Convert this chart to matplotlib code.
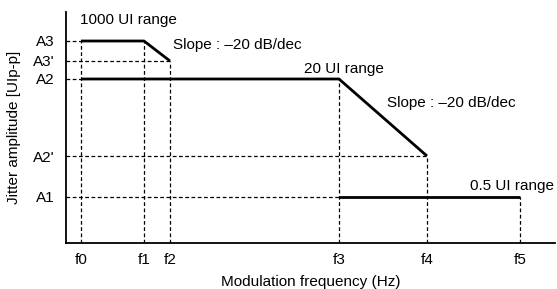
import matplotlib
matplotlib.use("Agg")
import matplotlib.pyplot as plt

plt.rcParams['font.family'] = ['Liberation Sans', 'DejaVu Sans']

# frequency break points (relative position on the axis)
f_labels = ['f0', 'f1', 'f2', 'f3', 'f4', 'f5']
f_pos = [15, 78, 104, 273, 361, 454]

# amplitude levels
a_labels = ['A1', "A2'", 'A2', "A3'", 'A3']
a_pos = [46, 87, 164, 182, 202]
lvl = dict(zip(a_labels, a_pos))
fq = dict(zip(f_labels, f_pos))

# mask segments (frequency, amplitude)
mask_1000 = [('f0', 'A3'), ('f1', 'A3'), ('f2', "A3'")]
mask_20 = [('f0', 'A2'), ('f3', 'A2'), ('f4', "A2'")]
mask_05 = [('f3', 'A1'), ('f5', 'A1')]

# guide lines: horizontal (level, up to freq), vertical (freq, from level)
h_guides = [('A3', 'f0'), ("A3'", 'f2'), ('A2', 'f0'), ("A2'", 'f4'), ('A1', 'f3')]
v_guides = [('f0', 'A3'), ('f1', 'A3'), ('f2', "A3'"), ('f3', 'A2'), ('f4', "A2'"), ('f5', 'A1')]

fig = plt.figure(figsize=(5.57, 2.89), dpi=100)
ax = fig.add_axes([66/557, 46/289, 489/557, 231/289])

dash = dict(color='black', lw=0.9, ls=(0, (3, 2)))
for a, f in h_guides:
    ax.plot([0, fq[f]], [lvl[a], lvl[a]], **dash)
for f, a in v_guides:
    ax.plot([fq[f], fq[f]], [0, lvl[a]], **dash)

for seg in (mask_1000, mask_20, mask_05):
    ax.plot([fq[f] for f, a in seg], [lvl[a] for f, a in seg], color='black', lw=2.0,
            solid_capstyle='butt')

fs = 11
ax.text(14, 223, '1000 UI range', fontsize=fs, va='center')
ax.text(107, 198, 'Slope : \u201320 dB/dec', fontsize=fs, va='center')
ax.text(238, 174, '20 UI range', fontsize=fs, va='center')
ax.text(321, 140, 'Slope : \u201320 dB/dec', fontsize=fs, va='center')
ax.text(404, 57, '0.5 UI range', fontsize=fs, va='center')

ax.set_xlim(0, 489)
ax.set_ylim(0, 231)
ax.set_xticks(f_pos)
ax.set_xticklabels(f_labels)
ax.set_yticks(a_pos)
ax.set_yticklabels(a_labels)
ax.tick_params(length=0, labelsize=fs)
ax.tick_params(axis='x', pad=7)
ax.tick_params(axis='y', pad=8)
for s in ['top', 'right']:
    ax.spines[s].set_visible(False)
for s in ['left', 'bottom']:
    ax.spines[s].set_linewidth(1.3)

ax.set_xlabel('Modulation frequency (Hz)', fontsize=fs, labelpad=6)
ax.set_ylabel('Jitter amplitude [UIp-p]', fontsize=fs, labelpad=9)

fig.savefig('out.png', dpi=100)
